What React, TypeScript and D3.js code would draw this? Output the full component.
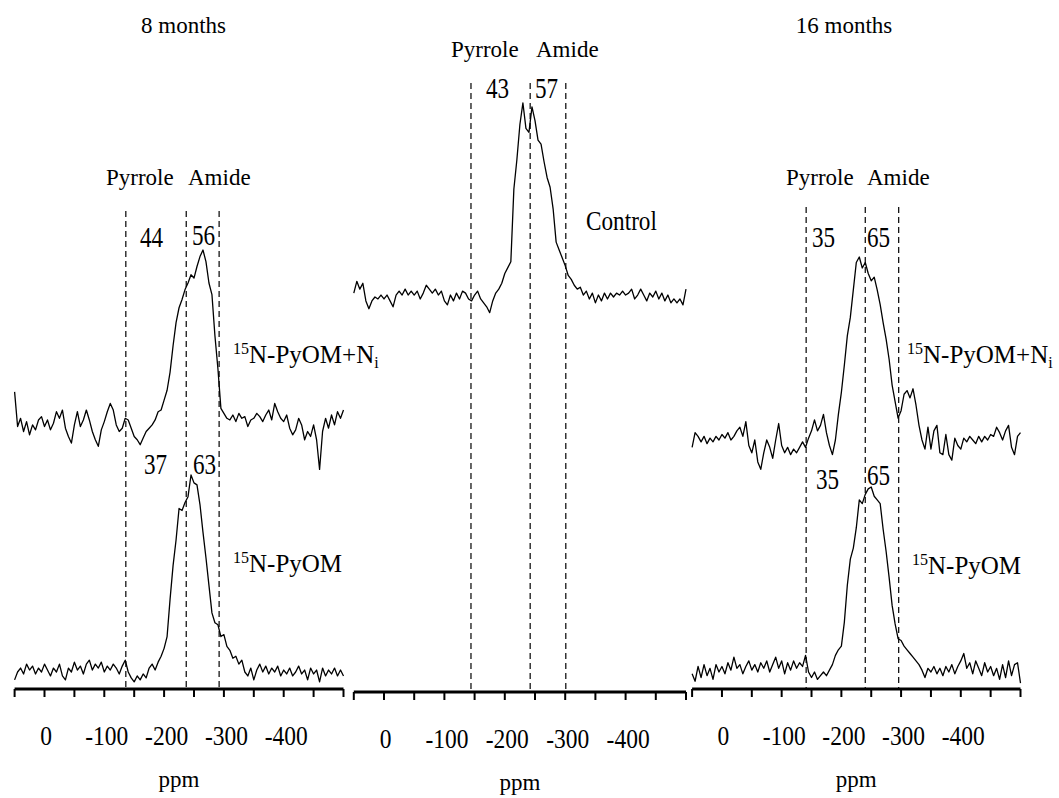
import React from 'react';
import * as d3 from 'd3';

// ---- data ----
const ppmGrid = d3.range(50, -501, -5); // sampling grid in ppm (111 points)
const axisTicks = d3.range(50, -501, -50);
const tickLabels = [0, -100, -200, -300, -400];

// 8 months, 15N-PyOM+Ni
const pyomNi8 = [
  14, -7, -2, -10, -4, -12, -6, -9, -3, -1, -7,
  -3, -9, -5, 2, -2, 3, -8, -13, -17, -6,
  2, -7, -3, 3, -3, -10, -15, -19, -9, -4,
  2, 7, 3, -6, -10, -8, -2, -3, -8, -13,
  -15, -18, -14, -10, -8, -6, -3, 2, 3, 9,
  15, 26, 42, 56, 65, 70, 76, 80, 85, 83,
  90, 96, 100, 93, 80, 73, 48, 28, 4, 1,
  -2, -3, 0, -4, 1, -2, -1, -7, -3, -2,
  1, -1, -4, 0, 3, -3, 7, 2, -2, -4,
  0, -8, -12, -9, -2, -6, -15, -10, -13, -6,
  -15, -33, -10, -2, -8, 0, -6, 2, -2, 3,
];
// 8 months, 15N-PyOM
const pyom8 = [
  -4, 0, 2, -1, 4, 1, 3, -1, 2, 0, 4,
  1, -2, 2, 0, 4, -2, -4, 2, 0, 5,
  1, 3, -1, 4, 6, 1, 4, 2, 5, 0,
  3, 1, 4, 2, -1, 3, 6, 0, -3, -5,
  -2, -4, -1, -3, 2, 4, 1, 5, 8, 12,
  18, 37, 54, 67, 83, 82, 86, 89, 100, 96,
  95, 85, 71, 58, 44, 30, 25, 24, 18, 19,
  13, 11, 7, 8, 4, 6, 0, -2, 2, -4,
  1, 4, 0, 3, -1, 2, 0, 3, -2, 1,
  -1, 2, -2, 0, 3, -1, 1, -4, 2, -1,
  1, -5, 2, -2, 1, -1, 2, -2, 1, -2,
];
// Control
const control = [
  2, 8, 4, 7, -2, -6, -2, 0, -1, 1, -1,
  1, -2, -5, 1, 3, 1, 4, 1, 3, 1,
  3, -1, 2, 6, 4, 2, 4, 1, 3, -2,
  -4, 1, -2, 2, -1, 3, 2, -1, -2, 1,
  3, -1, -3, -5, -8, -2, 2, 4, 7, 12,
  15, 18, 55, 70, 88, 99, 86, 84, 97, 90,
  80, 78, 69, 61, 56, 45, 28, 24, 20, 16,
  11, 9, 6, 4, 5, 1, 3, -1, 2, -3,
  1, -2, 2, -1, 2, 0, 2, 1, 3, 1,
  2, 4, -1, 1, 4, 1, -2, 2, 0, 3,
  -1, 2, -2, 1, -3, -1, -3, -1, -4, 4,
];
// 16 months, 15N-PyOM+Ni
const pyomNi16 = [
  -4, 4, 2, -1, 2, -2, 1, -1, 2, 0, 3,
  1, 4, 0, 2, 5, 7, 2, 10, -3, -7,
  0, -12, -16, -7, 0, -4, -10, 0, 9, -3,
  -7, -4, -8, -5, -7, -4, -1, -4, 1, 5,
  11, 5, 8, 14, 4, -3, -8, 0, 14, 26,
  41, 57, 67, 82, 97, 100, 94, 97, 91, 87,
  89, 82, 74, 64, 55, 44, 30, 21, 12, 16,
  25, 27, 23, 28, 19, 8, 0, -5, 7, -5,
  5, 8, -7, -8, 3, -8, -11, 1, -3, -5,
  1, -1, 2, 0, -2, 2, -1, 2, 0, 3,
  2, 7, 4, 0, 5, 8, -4, -8, 2, 4,
];
// 16 months, 15N-PyOM
const pyom16 = [
  -1, -5, 3, -3, 4, -2, 2, -4, 4, 0, 3,
  -1, 5, 1, 8, 2, 4, -1, 3, 6, 1,
  4, 0, 5, 2, 6, 0, 4, 8, 2, 6,
  -1, 5, 1, 6, 2, 5, 3, 9, 0, -3,
  0, -4, -2, 0, -2, 1, 4, 9, 12, 14,
  27, 47, 61, 67, 78, 93, 91, 96, 99, 100,
  95, 93, 91, 77, 65, 51, 36, 26, 18, 17,
  14, 12, 10, 8, 6, 4, 1, -3, 2, 0,
  3, -1, 2, -2, 3, 0, 4, -1, 3, 6,
  10, 2, 5, -1, 6, 2, -2, 5, 0, 3,
  -2, 2, -4, 4, -3, 6, -2, 4, 5, -6,
];

// region dividers (ppm)
const dividers8 = [-136, -237, -292];
const dividersControl = [-144, -242, -301];
const dividers16 = [-141, -240, -296];

// pyrrole / amide percentages
const share8Ni = ['44', '56'];
const share8 = ['37', '63'];
const shareControl = ['43', '57'];
const share16Ni = ['35', '65'];
const share16 = ['35', '65'];

const titles = ['8 months', '16 months'];

const FONT = "'Liberation Serif', 'Times New Roman', Times, serif";

type TProps = {
  x: number;
  y: number;
  size: number;
  sx?: number;
  anchor?: 'start' | 'middle' | 'end';
  children: React.ReactNode;
};
function T({ x, y, size, sx = 1, anchor = 'start', children }: TProps) {
  return (
    <text
      transform={`translate(${x},${y}) scale(${sx},1)`}
      fontSize={size}
      textAnchor={anchor}
      fontFamily={FONT}
      fill="#000"
    >
      {children}
    </text>
  );
}

function Species({ x, y, ni }: { x: number; y: number; ni: boolean }) {
  return (
    <text x={x} y={y} fontSize={25} fontFamily={FONT} fill="#000">
      <tspan fontSize={16} dy={-9}>15</tspan>
      <tspan dy={9}>{ni ? 'N-PyOM+N' : 'N-PyOM'}</tspan>
      {ni ? (
        <tspan fontSize={16} dy={5}>i</tspan>
      ) : null}
    </text>
  );
}

function Spectrum({
  values,
  xs,
  y0,
  y100,
}: {
  values: number[];
  xs: d3.ScaleLinear<number, number>;
  y0: number;
  y100: number;
}) {
  const ys = d3.scaleLinear().domain([0, 100]).range([y0, y100]);
  const line = d3
    .line<number>()
    .x((_, i) => xs(ppmGrid[i]))
    .y((d) => ys(d));
  return (
    <path d={line(values) || ''} fill="none" stroke="#000" strokeWidth={1.3} strokeLinejoin="round" />
  );
}

function Axis({ xs, y }: { xs: d3.ScaleLinear<number, number>; y: number }) {
  const [a, b] = xs.range();
  return (
    <g>
      <line x1={a} x2={b} y1={y} y2={y} stroke="#000" strokeWidth={3} />
      {axisTicks.map((t) => (
        <line key={t} x1={xs(t)} x2={xs(t)} y1={y} y2={y + 8} stroke="#000" strokeWidth={2} />
      ))}
      {tickLabels.map((t) => (
        <T key={t} x={xs(t) + (t === 0 ? 1.5 : 2.5)} y={y + 56} size={27} sx={0.87} anchor="middle">
          {String(t)}
        </T>
      ))}
      <T x={(a + b) / 2} y={y + 98} size={23} anchor="middle">
        ppm
      </T>
    </g>
  );
}

function Dividers({
  xs,
  vals,
  top,
  bottom,
}: {
  xs: d3.ScaleLinear<number, number>;
  vals: number[];
  top: number;
  bottom: number;
}) {
  return (
    <g>
      {vals.map((v) => (
        <line
          key={v}
          x1={xs(v)}
          x2={xs(v)}
          y1={top}
          y2={bottom}
          stroke="#000"
          strokeWidth={1.2}
          strokeDasharray="6 4"
        />
      ))}
    </g>
  );
}

export default function App() {
  const xL = d3.scaleLinear().domain([50, -500]).range([14.6, 343.5]);
  const xM = d3.scaleLinear().domain([50, -500]).range([353.8, 686]);
  const xR = d3.scaleLinear().domain([50, -500]).range([692.1, 1020.5]);

  const NUM = 30;
  const NSX = 0.77;

  return (
    <svg
      width={1059}
      height={798}
      viewBox="0 0 1059 798"
      style={{ position: 'absolute', left: 0, top: 0, background: '#fff' }}
    >
      <rect x={0} y={0} width={1059} height={798} fill="#fff" />

      {/* ---------- left: 8 months ---------- */}
      <T x={183.5} y={33} size={23} anchor="middle">{titles[0]}</T>
      <T x={106} y={185} size={23}>Pyrrole</T>
      <T x={188} y={185} size={23}>Amide</T>
      <Dividers xs={xL} vals={dividers8} top={211} bottom={688} />
      <T x={140} y={247} size={NUM} sx={NSX}>{share8Ni[0]}</T>
      <T x={192} y={245} size={NUM} sx={NSX}>{share8Ni[1]}</T>
      <T x={144} y={474} size={NUM} sx={NSX}>{share8[0]}</T>
      <T x={193} y={474} size={NUM} sx={NSX}>{share8[1]}</T>
      <Spectrum values={pyomNi8} xs={xL} y0={415} y100={250} />
      <Spectrum values={pyom8} xs={xL} y0={672} y100={475} />
      <Species x={233} y={363} ni={true} />
      <Species x={233} y={572} ni={false} />
      <Axis xs={xL} y={689} />

      {/* ---------- middle: control ---------- */}
      <T x={451} y={57} size={23}>Pyrrole</T>
      <T x={536} y={57} size={23}>Amide</T>
      <Dividers xs={xM} vals={dividersControl} top={83} bottom={692} />
      <T x={486} y={98} size={NUM} sx={NSX}>{shareControl[0]}</T>
      <T x={535} y={98} size={NUM} sx={NSX}>{shareControl[1]}</T>
      <Spectrum values={control} xs={xM} y0={297} y100={101} />
      <T x={586} y={230} size={27} sx={0.86}>Control</T>
      <Axis xs={xM} y={692} />

      {/* ---------- right: 16 months ---------- */}
      <T x={844} y={33} size={23} anchor="middle">{titles[1]}</T>
      <T x={786} y={185} size={23}>Pyrrole</T>
      <T x={867} y={185} size={23}>Amide</T>
      <Dividers xs={xR} vals={dividers16} top={207} bottom={689} />
      <T x={812} y={247} size={NUM} sx={NSX}>{share16Ni[0]}</T>
      <T x={867} y={247} size={NUM} sx={NSX}>{share16Ni[1]}</T>
      <T x={816} y={489} size={NUM} sx={NSX}>{share16[0]}</T>
      <T x={867} y={485} size={NUM} sx={NSX}>{share16[1]}</T>
      <Spectrum values={pyomNi16} xs={xR} y0={440} y100={257} />
      <Spectrum values={pyom16} xs={xR} y0={672} y100={487} />
      <Species x={907} y={363} ni={true} />
      <Species x={912} y={574} ni={false} />
      <Axis xs={xR} y={689} />
    </svg>
  );
}
